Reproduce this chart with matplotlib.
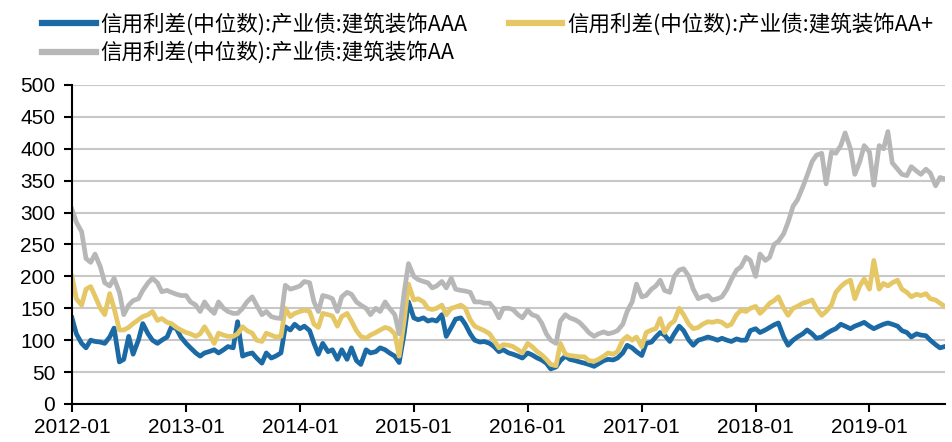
import pandas as pd
import matplotlib.pyplot as plt
import matplotlib.dates as mdates

# half-month readings (1st and 15th of each month), last value = 2019-08-30
aaa = [135, 110, 95, 88, 100, 98, 97, 95, 105, 119, 66, 70, 106, 78, 100, 126, 110, 100, 95, 100, 105, 121, 118, 105,
       95, 88, 80, 75, 80, 82, 85, 80, 85, 90, 88, 129, 75, 78, 80, 72, 64, 80, 72, 75, 80, 121, 116, 125,
       118, 122, 115, 95, 78, 95, 82, 85, 70, 85, 70, 88, 68, 62, 85, 80, 82, 88, 85, 80, 75, 65, 110, 160,
       135, 132, 135, 130, 132, 130, 140, 106, 120, 133, 135, 125, 110, 100, 97, 98, 95, 90, 82, 85, 80, 78, 75, 72,
       80, 77, 72, 69, 64, 55, 58, 68, 75, 70, 68, 66, 64, 62, 59, 63, 68, 70, 69, 72, 80, 92, 88, 82,
       76, 95, 97, 105, 112, 108, 98, 110, 122, 115, 100, 92, 100, 102, 105, 103, 100, 103, 100, 98, 102, 100, 100, 115,
       118, 112, 116, 120, 124, 127, 105, 92, 100, 105, 110, 116, 110, 103, 105, 110, 115, 118, 125, 122, 118, 122, 125, 128,
       122, 118, 122, 125, 127, 125, 122, 115, 112, 105, 110, 108, 107, 100, 93, 88, 90]

aa_plus = [200, 165, 155, 180, 184, 169, 150, 140, 173, 150, 116, 116, 120, 126, 132, 137, 140, 145, 131, 134, 128, 126, 120, 116,
           112, 110, 106, 110, 121, 110, 95, 111, 108, 106, 106, 110, 121, 115, 111, 100, 98, 111, 108, 105, 106, 150, 137, 142,
           145, 147, 145, 125, 120, 142, 140, 138, 122, 137, 142, 130, 115, 106, 103, 108, 112, 116, 120, 118, 110, 75, 130, 188,
           163, 165, 160, 150, 148, 150, 155, 140, 150, 152, 155, 150, 132, 122, 118, 115, 110, 100, 88, 93, 92, 90, 85, 80,
           95, 90, 82, 77, 70, 62, 60, 95, 78, 76, 75, 74, 74, 68, 67, 70, 75, 80, 78, 82, 100, 106, 100, 105,
           90, 112, 116, 118, 134, 112, 125, 130, 150, 140, 125, 118, 120, 125, 129, 128, 130, 128, 122, 125, 140, 147, 145, 150,
           153, 142, 150, 158, 162, 168, 150, 139, 150, 153, 158, 160, 163, 150, 139, 145, 155, 175, 184, 190, 194, 165, 185, 196,
           180, 225, 180, 189, 185, 190, 194, 180, 175, 168, 172, 170, 173, 165, 163, 158, 153]

aa = [305, 285, 270, 228, 222, 235, 215, 190, 185, 197, 175, 140, 155, 162, 165, 178, 190, 197, 190, 176, 178, 175, 172, 170,
      170, 160, 155, 145, 160, 150, 142, 160, 150, 145, 142, 142, 150, 160, 168, 155, 140, 145, 137, 135, 134, 186, 180, 182,
      185, 192, 190, 160, 145, 170, 168, 165, 145, 168, 175, 172, 160, 155, 150, 140, 150, 145, 160, 150, 140, 110, 175, 220,
      200, 195, 192, 190, 182, 185, 192, 182, 197, 180, 178, 177, 175, 160, 160, 158, 158, 150, 135, 150, 150, 148, 140, 135,
      147, 140, 137, 127, 110, 100, 95, 130, 140, 135, 132, 128, 120, 112, 106, 110, 113, 110, 112, 115, 125, 145, 160, 188,
      168, 170, 180, 185, 194, 178, 175, 200, 210, 212, 200, 180, 165, 168, 170, 163, 165, 168, 180, 195, 210, 215, 230, 225,
      200, 235, 225, 230, 250, 255, 267, 285, 310, 320, 340, 358, 380, 390, 393, 345, 395, 393, 405, 425, 400, 360, 380, 405,
      395, 343, 405, 400, 427, 378, 368, 360, 358, 372, 365, 360, 368, 362, 342, 355, 353]

labels = ['信用利差(中位数):产业债:建筑装饰AAA',
          '信用利差(中位数):产业债:建筑装饰AA+',
          '信用利差(中位数):产业债:建筑装饰AA']
colors = ['#1b6aa5', '#e5c766', '#b7b7b7']

dates = []
for y in range(2012, 2020):
    for m in range(1, 13):
        if y == 2019 and m > 8:
            break
        dates.append(pd.Timestamp(y, m, 1))
        dates.append(pd.Timestamp(y, m, 15))
dates.append(pd.Timestamp(2019, 8, 30))

plt.rcParams['font.family'] = ['Liberation Sans', 'Noto Sans CJK SC', 'DejaVu Sans']

fig = plt.figure(figsize=(9.52, 4.42), dpi=100)
ax = fig.add_axes([0.0756, 0.086, 0.917, 0.7217])

lines = []
for vals, lab, c in zip([aaa, aa_plus, aa], labels, colors):
    ln, = ax.plot(dates, vals, color=c, lw=3.4, label=lab, solid_joinstyle='round')
    lines.append(ln)

ax.set_ylim(0, 500)
ax.set_yticks(range(0, 501, 50))
ax.set_xlim(pd.Timestamp(2012, 1, 1), pd.Timestamp(2019, 8, 31))
ax.xaxis.set_major_locator(mdates.YearLocator())
ax.xaxis.set_major_formatter(mdates.DateFormatter('%Y-%m'))

ax.grid(axis='y', color='#c8c8c8', lw=1.5)
ax.set_axisbelow(True)
for s in ['top', 'right']:
    ax.spines[s].set_visible(False)
ax.spines['left'].set_linewidth(1.5)
ax.spines['bottom'].set_linewidth(1.5)
ax.tick_params(axis='both', labelsize=15, width=1.5, length=6, colors='black')
ax.tick_params(axis='x', pad=4)
ax.tick_params(axis='y', pad=6)

leg = fig.legend([lines[0], lines[2], lines[1]], [labels[0], labels[2], labels[1]],
                 ncol=2, loc='upper left', bbox_to_anchor=(0.028, 1.005), frameon=False,
                 prop={'family': ['Noto Sans CJK SC', 'DejaVu Sans'], 'size': 15.5},
                 handlelength=2.5, handletextpad=0.23, columnspacing=1.9, labelspacing=0.28,
                 borderaxespad=0.3)
for h in leg.legend_handles:
    h.set_linewidth(4.5)

fig.savefig('out.png', dpi=100)
